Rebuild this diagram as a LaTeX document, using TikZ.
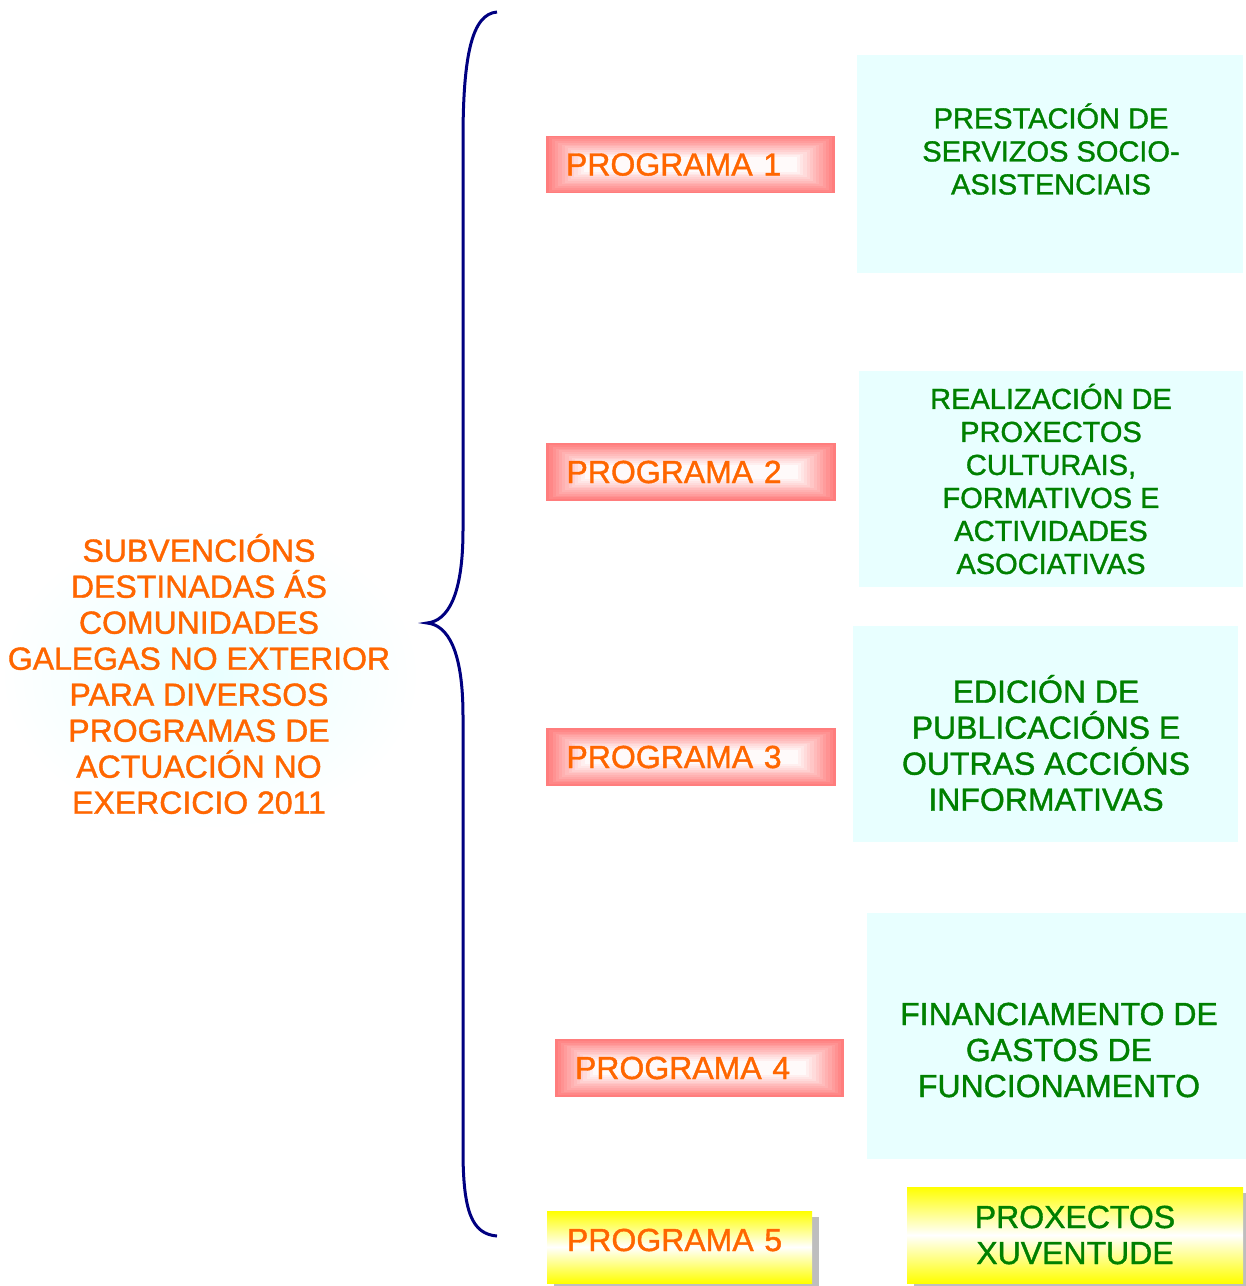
\documentclass[tikz,border=0pt]{standalone}
\usepackage{fontspec}
\setmainfont{Liberation Sans}
\newfontfamily\diagfont{Liberation Sans}[FakeBold=1.2]
\usepackage{tikz}
\usetikzlibrary{positioning, shadows, backgrounds, calc}

\definecolor{orangetxt}{RGB}{255,102,0}
\definecolor{greentxt}{RGB}{0,128,0}
\definecolor{bracecol}{RGB}{0,0,128}
\definecolor{salmon}{RGB}{255,125,125}
\definecolor{paleblue}{RGB}{232,255,255}
\definecolor{shadowgray}{RGB}{190,190,190}

\newcommand{\bigtxt}{\diagfont\fontsize{16pt}{18pt}\selectfont}
\newcommand{\midtxt}{\diagfont\fontsize{14.5pt}{16.5pt}\selectfont}

% rectangular gradient behind a programa box
\newcommand{\progshade}[1]{%
    \begin{scope}[on background layer]
        \fill[salmon] (#1.south west) rectangle (#1.north east);
        \foreach \k in {1,...,12} {
            \pgfmathsetmacro{\mix}{100-\k*8}
            \fill[salmon!\mix!white] ($(#1.south west)+(\k*1.6pt,\k*0.9pt)$)
                rectangle ($(#1.north east)+(-\k*1.6pt,-\k*0.9pt)$);
        }
    \end{scope}}

\tikzset{
    progbox/.style={minimum height=28.5pt, text width=124.5pt, inner xsep=10pt, inner ysep=0pt,
        align=left, font=\bigtxt, text=orangetxt},
    yellowbox/.style={top color=yellow, bottom color=yellow, middle color=white,
        drop shadow={shadow xshift=3.5pt, shadow yshift=-3pt, fill=shadowgray, opacity=1}},
    infobox/.style={fill=paleblue, inner sep=0pt},
    infotext/.style={align=center, font=\bigtxt, text=greentxt, inner sep=0pt},
}

\begin{document}
\begin{tikzpicture}[x=0.5pt, y=-0.5pt]
    \useasboundingbox (0,0) rectangle (1246,1286);

    % main title on the left
    \shade[inner color=paleblue, outer color=white] (0,520) rectangle (420,830);
    \node[align=center, font=\bigtxt, text=orangetxt, inner sep=0pt] (title) at (199,674)
        {SUBVENCIÓNS\\DESTINADAS ÁS\\COMUNIDADES\\GALEGAS NO EXTERIOR\\PARA DIVERSOS\\PROGRAMAS DE\\ACTUACIÓN NO\\EXERCICIO 2011};

    % brace
    \coordinate (btop) at (497,12);
    \coordinate (btip) at (427,623);
    \coordinate (bbot) at (497,1236);
    \draw[bracecol, line width=1.5pt]
        (btop) .. controls (472,14) and (463,55) .. (463,140) -- (463,530)
        .. controls (463,595) and (448,621) .. (btip)
        .. controls (448,625) and (463,651) .. (463,716) -- (463,1150)
        .. controls (463,1212) and (472,1234) .. (bbot);

    % programas
    \node[progbox] (p1) at (690.5,164.5) {PROGRAMA 1};
    \node[progbox] (p2) at (691,472) {PROGRAMA 2};
    \node[progbox] (p3) at (691,757) {PROGRAMA 3};
    \node[progbox] (p4) at (699.5,1068) {PROGRAMA 4};
    \progshade{p1}
    \progshade{p2}
    \progshade{p3}
    \progshade{p4}
    \node[yellowbox, minimum width=132.5pt, minimum height=36pt, inner sep=0pt] (p5) at (679.5,1247) {};
    \node[progbox, text width=112.5pt] (p5txt) at (679.5,1240) {PROGRAMA 5};

    % descricions
    \node[infobox, minimum width=193pt, minimum height=109pt] (d1) at (1050,164) {};
    \node[infotext, font=\midtxt] (d1txt) at (1051,149) {PRESTACIÓN DE\\SERVIZOS SOCIO-\\ASISTENCIAIS};

    \node[infobox, minimum width=192pt, minimum height=108pt] (d2) at (1051,479) {};
    \node[infotext, font=\midtxt] (d2txt) at (1051,479) {REALIZACIÓN DE\\PROXECTOS\\CULTURAIS,\\FORMATIVOS E\\ACTIVIDADES\\ASOCIATIVAS};

    \node[infobox, minimum width=192.5pt, minimum height=108pt] (d3) at (1045.5,734) {};
    \node[infotext] (d3txt) at (1046,743) {EDICIÓN DE\\PUBLICACIÓNS E\\OUTRAS ACCIÓNS\\INFORMATIVAS};

    \node[infobox, minimum width=189.5pt, minimum height=123pt] (d4) at (1056.5,1036) {};
    \node[infotext] (d4txt) at (1059,1050) {FINANCIAMENTO DE\\GASTOS DE\\FUNCIONAMENTO};

    \node[yellowbox, infotext, minimum width=168pt, minimum height=48pt] (d5) at (1075,1235) {PROXECTOS\\XUVENTUDE};
\end{tikzpicture}
\end{document}
